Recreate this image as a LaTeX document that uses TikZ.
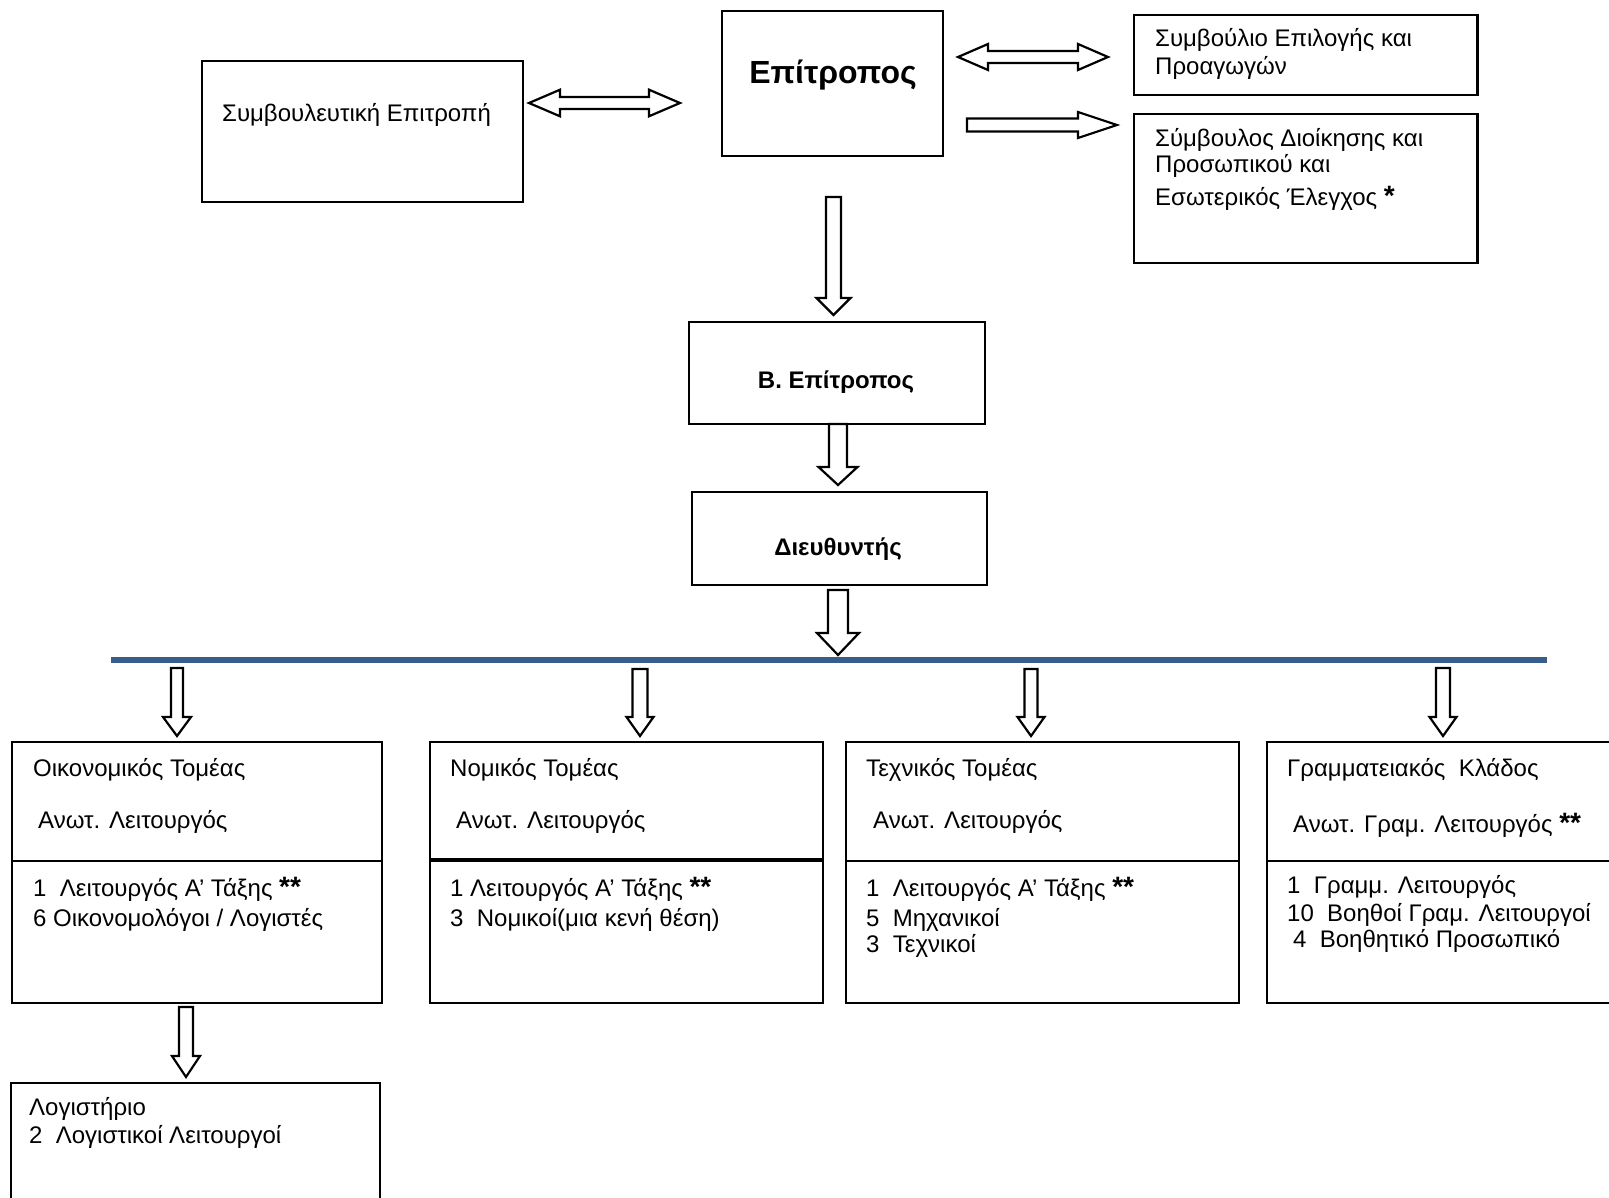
\documentclass[tikz,border=0pt]{standalone}
\usepackage{fontspec}
\setmainfont{Liberation Sans}
\usetikzlibrary{calc}
\definecolor{linkblue}{HTML}{385D8A}
\newcommand\fsz[1]{\fontsize{#1}{#1}\selectfont}
\newcommand\stars{{\fsz{28}\bfseries **}}
\tikzset{
  box/.style={draw, line width=2.5pt, rectangle, inner sep=0pt, outer sep=0pt, anchor=north west},
  lbl/.style={anchor=base west, inner sep=0pt, font=\fsz{24}},
  lblb/.style={anchor=base, inner sep=0pt, font=\fsz{24}\bfseries},
  blk/.style={draw, fill=white, line width=2.2pt, line join=miter},
}
% down block arrow: start, end, shaft half, head half, head length
\newcommand\downblk[5]{\draw[blk] let \p1=(#1), \p2=(#2) in
  (\x1-#3pt,\y1) -- (\x1+#3pt,\y1) -- (\x1+#3pt,\y2+#5pt) -- (\x1+#4pt,\y2+#5pt)
  -- (\x2,\y2) -- (\x1-#4pt,\y2+#5pt) -- (\x1-#3pt,\y2+#5pt) -- cycle;}
\newcommand\rightblk[5]{\draw[blk] let \p1=(#1), \p2=(#2) in
  (\x1,\y1+#3pt) -- (\x2-#5pt,\y1+#3pt) -- (\x2-#5pt,\y1+#4pt) -- (\x2,\y2)
  -- (\x2-#5pt,\y1-#4pt) -- (\x2-#5pt,\y1-#3pt) -- (\x1,\y1-#3pt) -- cycle;}
\newcommand\dblblk[5]{\draw[blk] let \p1=(#1), \p2=(#2) in
  (\x1,\y1) -- (\x1+#5pt,\y1+#4pt) -- (\x1+#5pt,\y1+#3pt) -- (\x2-#5pt,\y1+#3pt)
  -- (\x2-#5pt,\y1+#4pt) -- (\x2,\y2) -- (\x2-#5pt,\y1-#4pt) -- (\x2-#5pt,\y1-#3pt)
  -- (\x1+#5pt,\y1-#3pt) -- (\x1+#5pt,\y1-#4pt) -- cycle;}
\begin{document}
\begin{tikzpicture}[x=1pt,y=-1pt]
\clip (0,0) rectangle (1609,1198);
\fill[white] (0,0) rectangle (1609,1198);

% ---------- boxes ----------
\node[box, minimum width=321pt, minimum height=141pt] (symb) at (202,61) {};
\node[box, minimum width=221pt, minimum height=145pt] (epi) at (722,11) {};
\node[box, minimum width=343.5pt, minimum height=80pt] (sep) at (1134,15) {};
\node[box, minimum width=343.5pt, minimum height=149pt] (sdp) at (1134,114) {};
\node[box, minimum width=296pt, minimum height=102pt] (bep) at (689,322) {};
\node[box, minimum width=295pt, minimum height=93pt] (dir) at (692,492) {};

\node[box, minimum width=370pt, minimum height=261pt] (oik) at (12,742) {};
\node[box, minimum width=393pt, minimum height=261pt] (nom) at (430,742) {};
\node[box, minimum width=393pt, minimum height=261pt] (tex) at (846,742) {};
\node[box, minimum width=400pt, minimum height=261pt] (gra) at (1267,742) {};
\node[box, minimum width=369pt, minimum height=220pt] (log) at (11,1083) {};

% dividers
\draw[line width=2.5pt] ($(oik.north west)+(0,119)$) -- ($(oik.north east)+(0,119)$);
\draw[line width=4pt] ($(nom.north west)+(0,118)$) -- ($(nom.north east)+(0,118)$);
\draw[line width=2.5pt] ($(tex.north west)+(0,119)$) -- ($(tex.north east)+(0,119)$);
\draw[line width=2.5pt] ($(gra.north west)+(0,119)$) -- ($(gra.north east)+(0,119)$);

% ---------- blue bar ----------
\coordinate (barL) at (111,660);
\coordinate (barR) at (1547,660);
\draw[linkblue, line width=6.5pt] (barL) -- (barR);

% ---------- texts ----------
\node[lbl] (t-symb) at (222,122) {Συμβουλευτική Επιτροπή};
\node[anchor=base, inner sep=0pt, font=\fsz{32}\bfseries] (t-epi) at (833,84) {Επίτροπος};
\node[lbl] (t-sep1) at (1155,47) {Συμβούλιο Επιλογής και};
\node[lbl] (t-sep2) at (1155,75) {Προαγωγών};
\node[lbl] (t-sdp1) at (1155,147) {Σύμβουλος Διοίκησης και};
\node[lbl] (t-sdp2) at (1155,173) {Προσωπικού και};
\node[lbl] (t-sdp3) at (1155,206) {Εσωτερικός Έλεγχος {\fsz{28}\bfseries *}};
\node[lblb] (t-bep) at (836,388) {Β. Επίτροπος};
\node[lblb] (t-dir) at (838,555) {Διευθυντής};

\node[lbl] (t-oik1) at (33,776) {Οικονομικός Τομέας};
\node[lbl] (t-oik2) at (38,828) {Ανωτ. Λειτουργός};
\node[lbl] (t-oik3) at (33,896) {1\ \ Λειτουργός Α’ Τάξης \stars};
\node[lbl] (t-oik4) at (33,926) {6 Οικονομολόγοι / Λογιστές};

\node[lbl] (t-nom1) at (450,776) {Νομικός Τομέας};
\node[lbl] (t-nom2) at (456,828) {Ανωτ. Λειτουργός};
\node[lbl] (t-nom3) at (450,896) {1 Λειτουργός Α’ Τάξης \stars};
\node[lbl] (t-nom4) at (450,926) {3\ \ Νομικοί(μια κενή θέση)};

\node[lbl] (t-tex1) at (866,776) {Τεχνικός Τομέας};
\node[lbl] (t-tex2) at (873,828) {Ανωτ. Λειτουργός};
\node[lbl] (t-tex3) at (866,896) {1\ \ Λειτουργός Α’ Τάξης \stars};
\node[lbl] (t-tex4) at (866,926) {5\ \ Μηχανικοί};
\node[lbl] (t-tex5) at (866,952) {3\ \ Τεχνικοί};

\node[lbl] (t-gra1) at (1287,776) {Γραμματειακός\ \ Κλάδος};
\node[lbl] (t-gra2) at (1293,832) {Ανωτ. Γραμ. Λειτουργός \stars};
\node[lbl] (t-gra3) at (1287,893) {1\ \ Γραμμ. Λειτουργός};
\node[lbl] (t-gra4) at (1287,921) {10\ \ Βοηθοί Γραμ. Λειτουργοί};
\node[lbl] (t-gra5) at (1293,947) {4\ \ Βοηθητικό Προσωπικό};

\node[lbl] (t-log1) at (29,1115) {Λογιστήριο};
\node[lbl] (t-log2) at (29,1143) {2\ \ Λογιστικοί Λειτουργοί};

% ---------- block arrows ----------
\coordinate (d1s) at (529,103);   \coordinate (d1e) at (680,103);
\dblblk{d1s}{d1e}{6}{13.3}{31}
\coordinate (d2s) at (958,57);    \coordinate (d2e) at (1108,57);
\dblblk{d2s}{d2e}{6}{13}{30}
\coordinate (r1s) at (967,125);   \coordinate (r1e) at (1117,125);
\rightblk{r1s}{r1e}{6.5}{13}{39}

\coordinate (v1s) at (833.5,197); \coordinate (v1e) at (833.5,315);
\downblk{v1s}{v1e}{7.5}{17}{17}
\coordinate (v2s) at (838,424);   \coordinate (v2e) at (838,485);
\downblk{v2s}{v2e}{9}{19.5}{18}
\coordinate (v3s) at (838,590);   \coordinate (v3e) at (838,655);
\downblk{v3s}{v3e}{10}{21}{22}

\coordinate (a1s) at (177,668);   \coordinate (a1e) at (177,736);
\downblk{a1s}{a1e}{6}{14}{19}
\coordinate (a2s) at (640,669);   \coordinate (a2e) at (640,736);
\downblk{a2s}{a2e}{7.5}{13.5}{19}
\coordinate (a3s) at (1031,669);  \coordinate (a3e) at (1031,736);
\downblk{a3s}{a3e}{6.5}{13.5}{19}
\coordinate (a4s) at (1443,668);  \coordinate (a4e) at (1443,736);
\downblk{a4s}{a4e}{7}{13.5}{19}
\coordinate (a5s) at (186,1007);  \coordinate (a5e) at (186,1077);
\downblk{a5s}{a5e}{7}{14}{21}
\end{tikzpicture}
\end{document}
